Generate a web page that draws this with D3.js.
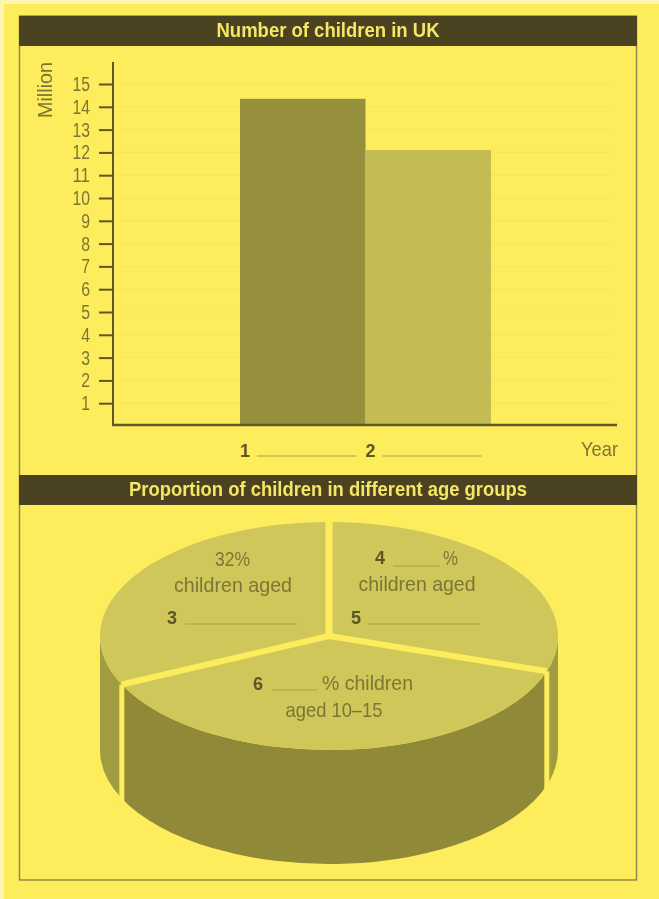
<!DOCTYPE html>
<html>
<head>
<meta charset="utf-8">
<script src="https://cdnjs.cloudflare.com/ajax/libs/d3/7.8.5/d3.min.js"></script>
<style>
html, body { margin: 0; padding: 0; background: #fdec5c; overflow: hidden; }
svg { display: block; filter: blur(0.45px); }
text { font-family: "Liberation Sans", sans-serif; fill: #7c7636; }
.title { font-weight: bold; fill: #f6e664; font-size: 21px; text-anchor: middle; }
.num { font-weight: bold; fill: #5c5526; font-size: 18px; }
.blank { stroke: #a9a24a; stroke-width: 1.2; }
.pielabel { font-size: 21px; text-anchor: middle; }
</style>
</head>
<body>
<div class="canvas"></div>
<script>
var width = 659, height = 899;

var titles = ["Number of children in UK", "Proportion of children in different age groups"];

var years = ["1", "2"];
var childrenMillions = [14.35, 12.1];
var millionTicks = [1, 2, 3, 4, 5, 6, 7, 8, 9, 10, 11, 12, 13, 14, 15];

// clockwise from the top of the pie: right, front, left
var agePercents = [30, 38, 32];
var pieLabels = ["32%", "children aged", "%", "children aged", "% children", "aged 10\u201315"];
var blankNumbers = ["3", "4", "5", "6"];

var bg = "#fdec5c", dark = "#4a4220", axisCol = "#5f5724";
var barColors = ["#96903c", "#c3bb54"];
var wallCols = ["#a29c40", "#8f8938", "#a29c40"];

var svg = d3.select(".canvas").append("svg")
    .attr("width", width)
    .attr("height", height);

// no narrow font installed, so squeeze to the measured width
function squeeze(sel, w) {
	sel.attr("textLength", w).attr("lengthAdjust", "spacingAndGlyphs");
}

// scan edge + frame
svg.append("rect").attr("width", width).attr("height", height).attr("fill", bg);
svg.append("rect").attr("x", 0).attr("y", 0).attr("width", 4).attr("height", height).attr("fill", "#fef6b0");
svg.append("rect").attr("x", 0).attr("y", 0).attr("width", width).attr("height", 4).attr("fill", "#fef6b0");
svg.append("rect").attr("x", 19.5).attr("y", 16).attr("width", 617).attr("height", 864)
    .attr("fill", "none").attr("stroke", "#8d8640").attr("stroke-width", 1.4);

var titleTop = [16, 475], titleBase = [37, 496], titleWidth = [223, 398];
titles.forEach(function(t, i) {
	svg.append("rect").attr("x", 19).attr("y", titleTop[i]).attr("width", 618).attr("height", 30).attr("fill", dark);
	svg.append("text").attr("class", "title").attr("x", 328).attr("y", titleBase[i]).text(t)
	    .call(squeeze, titleWidth[i]);
});

// ---- bar chart
var y = d3.scaleLinear().domain([0, 15]).range([426, 84]);
var x = d3.scaleBand().domain(years).range([240, 491]);

svg.append("g").selectAll("line").data(millionTicks).enter().append("line")
    .attr("x1", 114).attr("x2", 612)
    .attr("y1", function(d) { return y(d); })
    .attr("y2", function(d) { return y(d); })
    .attr("stroke", "#f6e55b").attr("stroke-width", 1);

svg.append("g").selectAll("rect").data(childrenMillions).enter().append("rect")
    .attr("x", function(d, i) { return x(years[i]); })
    .attr("y", function(d) { return y(d); })
    .attr("width", x.bandwidth())
    .attr("height", function(d) { return y(0) - y(d); })
    .attr("fill", function(d, i) { return barColors[i]; });

var yAxis = d3.axisLeft(y).tickValues(millionTicks).tickSize(14).tickPadding(9).tickFormat(d3.format("d"));
var yg = svg.append("g").attr("transform", "translate(113,0)").call(yAxis);
yg.attr("font-family", null).attr("font-size", null);
yg.select(".domain").remove();
yg.selectAll("line").attr("stroke", axisCol).attr("stroke-width", 2);
yg.selectAll("text")
    .style("font-size", "20px")
    .attr("fill", "#7c7636")
    .attr("textLength", function(d) { return d > 9 ? 17.5 : 8.8; })
    .attr("lengthAdjust", "spacingAndGlyphs");

svg.append("line").attr("x1", 113).attr("x2", 113).attr("y1", 62).attr("y2", 426).attr("stroke", axisCol).attr("stroke-width", 2);
svg.append("line").attr("x1", 112).attr("x2", 617).attr("y1", 425).attr("y2", 425).attr("stroke", axisCol).attr("stroke-width", 2.4);

svg.append("text").attr("transform", "translate(52,118) rotate(-90)").style("font-size", "20px").text("Million").call(squeeze, 56);
svg.append("text").attr("x", 581).attr("y", 456).style("font-size", "21px").text("Year").call(squeeze, 37);

years.forEach(function(d) {
	var px = x(d) + 3;
	svg.append("text").attr("class", "num").attr("x", px - 3).attr("y", 457).text(d);
	svg.append("line").attr("class", "blank").attr("x1", px + 14).attr("x2", px + 113).attr("y1", 456).attr("y2", 456);
});

// ---- 3d pie
var cx = 329, cy = 636, rx = 229, ry = 114, depth = 114;
var pie = d3.pie().sort(null);
var slices = pie(agePercents);
var arc = d3.arc().innerRadius(0).outerRadius(rx);

function rim(a) { return [cx + rx * Math.sin(a), cy - ry * Math.cos(a)]; }

function wall(a0, a1) {
	var p0 = rim(a0), p1 = rim(a1);
	return "M" + p0 + "A" + rx + "," + ry + " 0 0 1 " + p1 +
		"L" + p1[0] + "," + (p1[1] + depth) +
		"A" + rx + "," + ry + " 0 0 0 " + p0[0] + "," + (p0[1] + depth) + "Z";
}

// only the front half of the rim shows a wall
svg.append("g").selectAll("path").data(slices).enter().append("path")
    .attr("d", function(d) {
		return wall(Math.max(d.startAngle, Math.PI / 2), Math.min(d.endAngle, 3 * Math.PI / 2));
	})
    .attr("fill", function(d, i) { return wallCols[i]; });

svg.append("g").attr("transform", "translate(" + cx + "," + cy + ") scale(1," + (ry / rx) + ")")
  .selectAll("path").data(slices).enter().append("path")
    .attr("d", arc)
    .attr("fill", "#cfc759");

// gaps between slices: spokes on the top, verticals on the wall
slices.forEach(function(d) {
	var p = rim(d.startAngle);
	svg.append("line").attr("x1", cx).attr("y1", cy).attr("x2", p[0]).attr("y2", p[1])
	    .attr("stroke", bg).attr("stroke-width", d.startAngle === 0 ? 7 : 6);
	if (d.startAngle > Math.PI / 2) {
		svg.append("line").attr("x1", p[0]).attr("y1", p[1]).attr("x2", p[0]).attr("y2", p[1] + depth + 4)
		    .attr("stroke", bg).attr("stroke-width", 5);
	}
});

var labelX = [232.5, 233, 450.5, 417, 367.5, 334];
var labelY = [566, 592, 565, 591, 690, 717];
var labelW = [35, 118, 15, 117, 91, 97];
svg.append("g").selectAll("text").data(pieLabels).enter().append("text")
    .attr("class", "pielabel")
    .attr("x", function(d, i) { return labelX[i]; })
    .attr("y", function(d, i) { return labelY[i]; })
    .attr("textLength", function(d, i) { return labelW[i]; })
    .attr("lengthAdjust", "spacingAndGlyphs")
    .text(function(d) { return d; });

var numX = [167, 375, 351, 253], numY = [624, 564, 624, 690];
var blankX0 = [185, 393, 368, 272], blankX1 = [297, 440, 480, 317], blankY = [624, 566, 624, 690];
blankNumbers.forEach(function(n, i) {
	svg.append("text").attr("class", "num").attr("x", numX[i]).attr("y", numY[i]).text(n);
	svg.append("line").attr("class", "blank").attr("x1", blankX0[i]).attr("x2", blankX1[i]).attr("y1", blankY[i]).attr("y2", blankY[i]);
});
</script>
</body>
</html>
